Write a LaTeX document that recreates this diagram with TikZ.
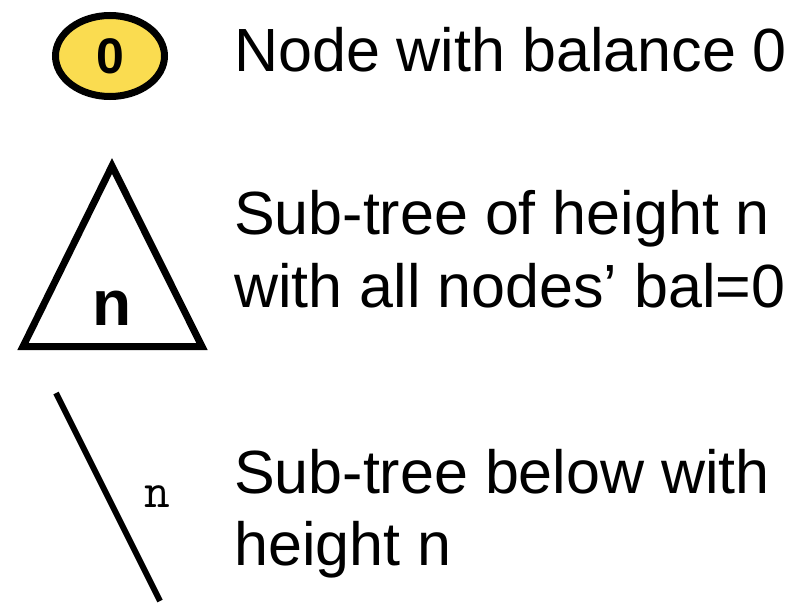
\documentclass[tikz,border=0pt]{standalone}
\usepackage{fontspec}
\setmainfont{Liberation Sans}
\usepackage{tikz}
\usetikzlibrary{shapes.geometric,positioning}
\definecolor{yolk}{HTML}{FADC50}
\newcommand{\legendfont}{\fontsize{61}{72}\selectfont}

\begin{document}
\begin{tikzpicture}[x=1pt,y=-1pt,every node/.style={font=\legendfont,inner sep=0pt,anchor=base west}]
    \useasboundingbox (0,0) rectangle (798,604);
    % balanced node
    \node[draw,ellipse,fill=yolk,line width=7pt,minimum width=109pt,minimum height=81pt,anchor=center,font=\fontsize{50}{60}\selectfont\bfseries] (zero) at (110,56) {0};
    \node (lblzero) at (234,72) {Node with balance 0};
    % sub-tree triangle
    \draw[line width=7pt,line join=miter] (112,166) coordinate (apex) -- (23,346.5) coordinate (left) -- (202,346.5) coordinate (right) -- cycle;
    \node[anchor=base,font=\fontsize{64}{72}\selectfont\bfseries] (tri) at (112,325) {n};
    \node (lblsubA) at (234,235) {Sub-tree of height n};
    \node (lblsubB) at (234,307) {with all nodes’ bal=0};
    % sub-tree edge
    \coordinate (top) at (56,393);
    \coordinate (bottom) at (160,601);
    \draw[line width=6pt] (top) -- (bottom);
    \node[anchor=base,font=\fontsize{50}{60}\selectfont\ttfamily] (edge) at (157,507) {n};
    \node (lblbelowA) at (234,493) {Sub-tree below with};
    \node (lblbelowB) at (234,565) {height n};
  \end{tikzpicture}
\end{document}
